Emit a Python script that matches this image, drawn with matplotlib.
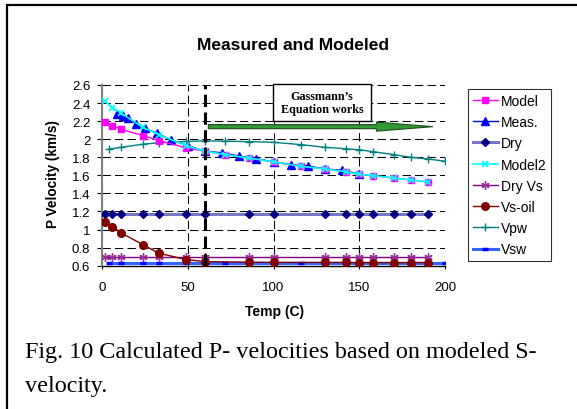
import matplotlib
matplotlib.use("Agg")
import matplotlib.pyplot as plt
from matplotlib.patches import Rectangle, FancyArrow
from matplotlib.ticker import FormatStrFormatter, MultipleLocator

# ---- data ----
t_model = [2, 6, 11, 24, 33, 49, 60, 72, 86, 100, 116, 130, 142, 150, 158, 170, 180, 190]
v_model = [2.19, 2.15, 2.11, 2.04, 1.985, 1.905, 1.867, 1.83, 1.79, 1.75, 1.70, 1.671, 1.64, 1.613, 1.597, 1.571, 1.549, 1.527]
v_model2 = [2.42, 2.35, 2.29, 2.13, 2.05, 1.93, 1.867, 1.83, 1.79, 1.75, 1.70, 1.671, 1.64, 1.613, 1.597, 1.571, 1.549, 1.527]

t_meas = [9, 12, 15, 20, 25, 32, 40, 50, 60, 70, 80, 90, 100, 110, 120, 130, 140, 150]
v_meas = [2.28, 2.255, 2.232, 2.17, 2.122, 2.066, 1.995, 1.929, 1.867, 1.85, 1.813, 1.785, 1.748, 1.718, 1.704, 1.671, 1.656, 1.615]

t_dry = [2, 6, 11, 24, 33, 49, 60, 86, 100, 130, 142, 150, 158, 170, 180, 190]
v_dry = [1.175, 1.175, 1.175, 1.175, 1.175, 1.175, 1.175, 1.175, 1.175, 1.175, 1.175, 1.175, 1.175, 1.175, 1.175, 1.175]
v_dryvs = [0.695, 0.695, 0.695, 0.695, 0.695, 0.695, 0.695, 0.695, 0.695, 0.695, 0.695, 0.695, 0.695, 0.695, 0.695, 0.695]
v_vsoil = [1.087, 1.032, 0.965, 0.831, 0.739, 0.668, 0.645, 0.639, 0.637, 0.636, 0.636, 0.635, 0.635, 0.635, 0.635, 0.635]

t_w = [4, 11, 24, 33, 49, 60, 72, 86, 100, 116, 130, 142, 150, 158, 170, 180, 190, 200]
v_vpw = [1.89, 1.91, 1.945, 1.96, 1.975, 1.982, 1.978, 1.973, 1.966, 1.94, 1.91, 1.895, 1.883, 1.862, 1.83, 1.80, 1.782, 1.756]
v_vsw = [0.633, 0.633, 0.633, 0.633, 0.633, 0.633, 0.633, 0.633, 0.633, 0.633, 0.633, 0.633, 0.633, 0.633, 0.633, 0.633, 0.633, 0.633]

x_ticks = [0, 50, 100, 150, 200]
title = "Measured and Modeled"
caption_lines = ["Fig. 10 Calculated P- velocities based on modeled S-", "velocity."]

W, H = 577, 410
plt.rcParams['font.family'] = ['Liberation Sans', 'DejaVu Sans']

fig = plt.figure(figsize=(W / 100, H / 100), dpi=100)
ax = fig.add_axes([102/W, 1-266.7/H, (445-102)/W, (266.7-86)/H])

ax.set_xlim(0, 200)
ax.set_ylim(0.6, 2.6)
ax.set_xticks(x_ticks)
ax.yaxis.set_major_locator(MultipleLocator(0.2))
ax.yaxis.set_major_formatter(FormatStrFormatter('%g'))
ax.grid(True, color='black', lw=0.75, ls=(0, (8, 4)))
ax.set_axisbelow(True)
for s in ['top', 'right']:
    ax.spines[s].set_visible(False)
ax.spines['left'].set_color('#808080')
ax.spines['left'].set_linewidth(1.5)
ax.spines['bottom'].set_color('black')
ax.spines['bottom'].set_linewidth(1)
ax.tick_params(axis='y', labelsize=9.5, length=3.6, width=0.8, colors='black', pad=4.8)
ax.tick_params(axis='x', labelsize=9.5, length=2.5, width=0.8, colors='black', pad=8.5)

ax.plot(t_dry, v_dry, color='#7777c4', lw=2.2, marker='D', ms=4, mfc='#000080', mec='#000080', label='Dry', zorder=3)
ax.plot(t_w, v_vsw, color='#3366ff', lw=2.2, marker='_', ms=5, mew=2.5, mec='#0000ff', label='Vsw', zorder=3)
ax.plot(t_dry, v_dryvs, color='#800080', lw=1, marker=(6, 2, 0), ms=6, mew=1, mec='#993399', label='Dry Vs', zorder=3)
ax.plot(t_dry, v_vsoil, color='#800000', lw=1, marker='o', ms=5.5, mfc='#800000', mec='#800000', label='Vs-oil', zorder=4)
ax.plot(t_w, v_vpw, color='#008080', lw=1, marker='+', ms=6, mew=1, mec='#008080', label='Vpw', zorder=3)
ax.plot(t_meas, v_meas, color='#0000ff', lw=1, marker='^', ms=5.5, mfc='#0000ff', mec='#0000ff', label='Meas.', zorder=5)
ax.plot(t_model, v_model, color='#ff00ff', lw=1, marker='s', ms=5, mfc='#ff00ff', mec='#ff00ff', label='Model', zorder=6)
ax.plot(t_model, v_model2, color='#00ffff', lw=1.2, marker='x', ms=5, mew=1.2, mec='#00ffff', label='Model2', zorder=7)

# threshold line and annotation
ax.axvline(60, color='black', lw=2.2, ls=(0, (4, 1.8)), zorder=8)
ax.add_patch(Rectangle((99.5, 2.206), 57.3, 0.406, facecolor='white', edgecolor='black', lw=1, clip_on=False, zorder=9))
ax.text(128.2, 2.41, "Gassmann\u2019s\nEquation works", ha='center', va='center', fontsize=8.7,
        fontweight='bold', family=['Liberation Serif'], linespacing=1.1, zorder=10)
ax.add_patch(FancyArrow(62, 2.139, 131, 0, width=0.045, head_width=0.1, head_length=33,
                        length_includes_head=True, facecolor='#339933', edgecolor='#1e4d1e', lw=0.8, zorder=9))

# legend
handles, labels = ax.get_legend_handles_labels()
order = ['Model', 'Meas.', 'Dry', 'Model2', 'Dry Vs', 'Vs-oil', 'Vpw', 'Vsw']
hmap = dict(zip(labels, handles))
leg = fig.legend([hmap[k] for k in order], order, loc='upper left',
                 bbox_to_anchor=(468/W, 1-90/H), borderaxespad=0, fontsize=10,
                 frameon=True, fancybox=False, edgecolor='black', handlelength=1.8,
                 handletextpad=0.2, labelspacing=0.52, borderpad=0.35)
leg.get_frame().set_linewidth(0.8)

fig.text(293/W, 1-50/H, title, ha='center', va='baseline', fontsize=12.5, fontweight='bold')
fig.text(53/W, 1-174/H, "P Velocity (km/s)", rotation=90, ha='center', va='center', fontsize=9.8, fontweight='bold')
fig.text(274.5/W, 1-316/H, "Temp (C)", ha='center', va='baseline', fontsize=10, fontweight='bold')
fig.text(25/W, 1-358.3/H, caption_lines[0], ha='left', va='baseline', fontsize=17.4, family=['Liberation Serif'])
fig.text(25/W, 1-391.7/H, caption_lines[1], ha='left', va='baseline', fontsize=17.4, family=['Liberation Serif'])

# outer frame
fig.add_artist(Rectangle((6.7/W, -0.05), 1.0, 1-5.5/H + 0.05, transform=fig.transFigure,
                         fill=False, edgecolor='black', lw=1.6))

fig.savefig("out.png", dpi=100)
